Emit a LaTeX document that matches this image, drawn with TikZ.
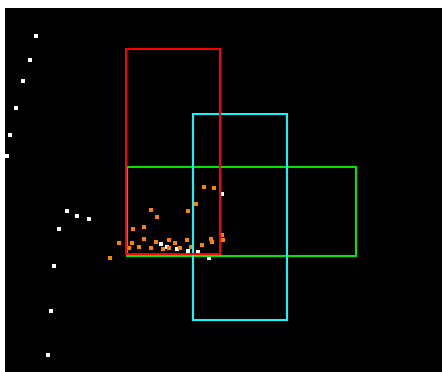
\documentclass[tikz,border=0pt]{standalone}
\usepackage{xcolor}
\usepackage{tikz}
\usetikzlibrary{backgrounds}

\definecolor{ptorange}{RGB}{255,128,0}
\definecolor{boxred}{RGB}{255,0,0}
\definecolor{boxcyan}{RGB}{0,255,255}
\definecolor{boxgreen}{RGB}{0,230,0}

\begin{document}
\begin{tikzpicture}[
  x=1pt, y=-1pt,
  wdot/.style={fill=white},
  odot/.style={fill=ptorange},
  frame/.style={line width=2pt}
]
  \useasboundingbox (0,0) rectangle (442,372);
  \fill[white] (0,0) rectangle (442,372);
  \fill[black] (5,8) rectangle (442,372);

  % white points
  \foreach \px/\py in {36/35.7, 29.7/60, 23.3/81.3, 16/107.7, 9.7/135.3, 7.3/156.3,
      66.7/211.3, 77/215.7, 88.7/219, 59/229.3, 53.7/266.3, 50.7/310.7, 47.7/355.3,
      221.5/194.3, 161.3/244, 166.7/247.3, 177.3/249.3, 188/250.5, 198.3/251.5, 209.2/257.5}
    \fill[wdot] (\px-2,\py-2) rectangle ++(4,4);

  % orange points
  \foreach \px/\py in {203.7/187, 214.3/188.2, 196.3/204, 151/210.3, 157.3/216.7, 188/211.3,
      133/229.3, 143.7/227.3, 143.7/239, 132/243, 119.3/243, 139.3/247.3, 151/248.3,
      156.3/242, 162.5/249.3, 169/240, 175.3/243, 169/248.3, 180.3/248.3, 187/240,
      190.5/247.3, 201.7/245.2, 211/238.8, 212.3/242, 222.5/240, 222/234.7,
      128.7/248.2, 109.7/258}
    \fill[odot] (\px-2,\py-2) rectangle ++(4,4);

  % boxes
  \draw[frame, boxgreen] (127,166.7) rectangle (355.7,256.3);
  \draw[frame, boxcyan] (192.7,113.7) rectangle (287.3,320);
  \draw[frame, boxred] (126.3,48.7) rectangle (220.3,254);
\end{tikzpicture}
\end{document}
